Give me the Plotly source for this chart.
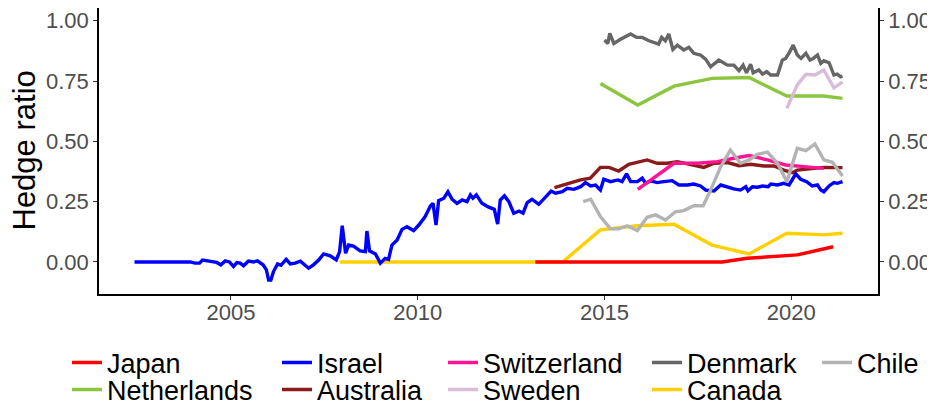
import plotly.graph_objects as go

# ---------------- data ----------------
japan_x = [2013.15, 2018.15, 2018.82, 2020.16, 2021.12]
japan_y = [0.0, 0.0, 0.015, 0.029, 0.063]

canada_x = [2007.91, 2008.88, 2009.88, 2010.88, 2011.88, 2012.88, 2013.88, 2014.89,
            2015.88, 2016.86, 2017.88, 2018.87, 2019.88, 2020.87, 2021.37]
canada_y = [0.0, 0.0, 0.0, 0.0, 0.0, 0.0, 0.0, 0.133, 0.15, 0.156, 0.07, 0.033,
            0.119, 0.112, 0.119]

netherlands_x = [2014.89, 2015.89, 2016.86, 2017.88, 2018.87, 2019.88, 2020.87, 2021.37]
netherlands_y = [0.74, 0.651, 0.729, 0.761, 0.765, 0.688, 0.688, 0.678]

sweden_x = [2019.88, 2020.16, 2020.39, 2020.63, 2020.87, 2021.14, 2021.37]
sweden_y = [0.637, 0.734, 0.778, 0.775, 0.796, 0.722, 0.747]

switzerland_x = [2015.89, 2016.23, 2016.59, 2016.86, 2017.48, 2018.02, 2018.46, 2018.87,
                 2019.36, 2019.85, 2020.34, 2020.87]
switzerland_y = [0.301, 0.34, 0.381, 0.409, 0.409, 0.416, 0.43, 0.441, 0.423, 0.402,
                 0.395, 0.388]

australia_x = [2013.66, 2014.0, 2014.36, 2014.62, 2014.89, 2015.12, 2015.38, 2015.65,
               2015.92, 2016.14, 2016.41, 2016.68, 2016.95, 2017.3, 2017.66, 2017.93,
               2018.29, 2018.6, 2018.91, 2019.27, 2019.54, 2019.8, 2020.03, 2020.16,
               2020.52, 2020.87, 2021.37]
australia_y = [0.308, 0.323, 0.34, 0.347, 0.392, 0.392, 0.377, 0.405, 0.416, 0.423,
               0.409, 0.409, 0.416, 0.405, 0.392, 0.409, 0.412, 0.399, 0.405, 0.398,
               0.398, 0.381, 0.37, 0.381, 0.388, 0.392, 0.391]

chile_x = [2014.43, 2014.63, 2014.89, 2015.16, 2015.38, 2015.61, 2015.88, 2016.14,
           2016.37, 2016.63, 2016.9, 2017.12, 2017.39, 2017.64, 2017.84, 2018.11,
           2018.37, 2018.64, 2018.87, 2019.09, 2019.36, 2019.63, 2019.88, 2020.16,
           2020.39, 2020.63, 2020.87, 2021.1, 2021.37]
chile_y = [0.25, 0.26, 0.188, 0.137, 0.137, 0.15, 0.13, 0.185, 0.195, 0.174, 0.208,
           0.213, 0.233, 0.233, 0.298, 0.395, 0.464, 0.409, 0.423, 0.446, 0.455, 0.409,
           0.333, 0.471, 0.461, 0.489, 0.423, 0.413, 0.356]

denmark_x = [2015.0, 2015.09, 2015.14, 2015.25, 2015.43, 2015.7, 2015.86, 2016.01,
             2016.19, 2016.37, 2016.45, 2016.53, 2016.63, 2016.72, 2016.83, 2016.95,
             2017.12, 2017.26, 2017.39, 2017.57, 2017.71, 2017.84, 2018.06, 2018.29,
             2018.46, 2018.6, 2018.71, 2018.8, 2018.91, 2018.98, 2019.13, 2019.23,
             2019.34, 2019.45, 2019.63, 2019.76, 2019.85, 2019.96, 2020.05, 2020.16,
             2020.26, 2020.39, 2020.5, 2020.59, 2020.7, 2020.79, 2020.87, 2021.01,
             2021.14, 2021.23, 2021.32, 2021.37]
denmark_y = [0.92, 0.906, 0.948, 0.906, 0.923, 0.945, 0.931, 0.931, 0.917, 0.909,
             0.903, 0.931, 0.917, 0.945, 0.881, 0.899, 0.879, 0.89, 0.865, 0.858,
             0.84, 0.809, 0.837, 0.816, 0.816, 0.793, 0.816, 0.784, 0.82, 0.784,
             0.796, 0.779, 0.789, 0.775, 0.775, 0.837, 0.844, 0.872, 0.899, 0.858,
             0.844, 0.865, 0.837, 0.844, 0.858, 0.823, 0.834, 0.826, 0.775, 0.779,
             0.768, 0.771]

israel_x = [2002.42, 2003.91, 2004.04, 2004.16, 2004.24, 2004.45, 2004.62, 2004.73,
            2004.85, 2004.96, 2005.07, 2005.16, 2005.25, 2005.34, 2005.47, 2005.61,
            2005.71, 2005.86, 2005.95, 2006.01, 2006.07, 2006.14, 2006.25, 2006.34,
            2006.48, 2006.59, 2006.72, 2006.86, 2006.96, 2007.08, 2007.21, 2007.35,
            2007.48, 2007.66, 2007.82, 2007.91, 2007.98, 2008.07, 2008.15, 2008.28,
            2008.46, 2008.6, 2008.64, 2008.71, 2008.87, 2009.0, 2009.13, 2009.22,
            2009.31, 2009.45, 2009.58, 2009.71, 2009.89, 2010.03, 2010.2, 2010.34,
            2010.41, 2010.49, 2010.56, 2010.7, 2010.81, 2010.92, 2011.05, 2011.19,
            2011.32, 2011.41, 2011.48, 2011.57, 2011.72, 2011.9, 2012.05, 2012.14,
            2012.21, 2012.32, 2012.44, 2012.57, 2012.71, 2012.82, 2012.93, 2013.06,
            2013.24, 2013.42, 2013.57, 2013.69, 2013.87, 2014.0, 2014.18, 2014.36,
            2014.49, 2014.63, 2014.76, 2014.89, 2014.98, 2015.16, 2015.36, 2015.47,
            2015.59, 2015.7, 2015.88, 2016.01, 2016.1, 2016.23, 2016.41, 2016.59,
            2016.81, 2016.99, 2017.22, 2017.39, 2017.57, 2017.71, 2017.93, 2018.11,
            2018.29, 2018.46, 2018.64, 2018.78, 2018.84, 2018.96, 2019.09, 2019.23,
            2019.38, 2019.45, 2019.63, 2019.8, 2019.94, 2020.03, 2020.12, 2020.25,
            2020.41, 2020.56, 2020.7, 2020.79, 2020.87, 2021.01, 2021.14, 2021.23,
            2021.37]
israel_y = [0.0, 0.0, -0.005, -0.005, 0.008, 0.003, -0.002, -0.012, 0.004, 0.0,
            -0.019, -0.003, -0.005, -0.016, 0.004, 0.0, 0.004, -0.012, -0.033, -0.075,
            -0.075, -0.04, -0.008, -0.014, 0.011, -0.008, -0.005, 0.003, -0.012, -0.026,
            -0.012, 0.008, 0.033, 0.025, 0.008, 0.043, 0.15, 0.036, 0.07, 0.066,
            0.046, 0.043, 0.128, 0.046, 0.033, -0.005, 0.015, 0.011, 0.07, 0.091,
            0.135, 0.146, 0.13, 0.153, 0.188, 0.232, 0.243, 0.153, 0.254, 0.264,
            0.291, 0.26, 0.243, 0.257, 0.25, 0.278, 0.264, 0.278, 0.243, 0.227,
            0.218, 0.157, 0.257, 0.274, 0.25, 0.202, 0.211, 0.202, 0.246, 0.26,
            0.239, 0.27, 0.294, 0.285, 0.291, 0.305, 0.301, 0.312, 0.329, 0.315,
            0.319, 0.298, 0.343, 0.333, 0.34, 0.333, 0.365, 0.333, 0.333, 0.347,
            0.326, 0.336, 0.329, 0.333, 0.337, 0.319, 0.319, 0.323, 0.315, 0.298,
            0.294, 0.319, 0.31, 0.303, 0.298, 0.312, 0.295, 0.312, 0.31, 0.315,
            0.312, 0.323, 0.319, 0.326, 0.319, 0.34, 0.365, 0.343, 0.333, 0.315,
            0.319, 0.298, 0.291, 0.315, 0.329, 0.326, 0.333]

x_ticks = [2005, 2010, 2015, 2020]
y_ticks = [0.0, 0.25, 0.5, 0.75, 1.0]
y_ticktext = ["0.00", "0.25", "0.50", "0.75", "1.00"]

# name, x, y, colour, legend id, legend column text-start px, legend row, y-axis
series = [
    ("Canada", canada_x, canada_y, "#FFD000", "legend8", 687, 1, "y"),
    ("Netherlands", netherlands_x, netherlands_y, "#8CC63E", "legend2", 107, 1, "y"),
    ("Sweden", sweden_x, sweden_y, "#D8BCD8", "legend6", 483, 1, "y"),
    ("Denmark", denmark_x, denmark_y, "#666666", "legend7", 687, 0, "y"),
    ("Australia", australia_x, australia_y, "#8B1A1A", "legend4", 317, 1, "y"),
    ("Israel", israel_x, israel_y, "#0000FF", "legend3", 317, 0, "y"),
    ("Switzerland", switzerland_x, switzerland_y, "#FF1493", "legend5", 483, 0, "y"),
    ("Japan", japan_x, japan_y, "#FF0000", "legend", 107, 0, "y"),
    ("Chile", chile_x, chile_y, "#B3B3B3", "legend9", 857, 0, "y2"),
]

W, H = 935, 410
FONT = "Liberation Sans, Arial, sans-serif"
row_y = [355, 382]

fig = go.Figure()
legends = {}
for name, xs, ys, col, lg, tx, row, ya in series:
    fig.add_trace(go.Scatter(x=xs, y=ys, mode="lines", name=name, yaxis=ya,
                             line=dict(color=col, width=3.4), legend=lg,
                             showlegend=True))
    legends[lg] = dict(
        xref="container", yref="container",
        x=(tx - 48) / W, y=1 - row_y[row] / H,
        xanchor="left", yanchor="middle",
        orientation="v", bgcolor="rgba(0,0,0,0)", borderwidth=0,
        font=dict(family=FONT, size=27, color="black"),
        itemwidth=30, visible=True,
    )

axis_common = dict(
    showline=True, linecolor="black", linewidth=1.5,
    ticks="outside", ticklen=4, tickwidth=1.3, tickcolor="#333333",
    tickfont=dict(family=FONT, size=22, color="#4D4D4D"),
    showgrid=False, zeroline=False, automargin=False,
)

fig.update_layout(
    width=W, height=H, autosize=False, showlegend=True,
    margin=dict(l=91, r=65, t=0, b=124, autoexpand=False),
    plot_bgcolor="white", paper_bgcolor="white",
    font=dict(family=FONT),
    xaxis=dict(range=[2001.47, 2022.32], tickvals=x_ticks, ticklabelstandoff=-6,
               **axis_common),
    yaxis=dict(range=[-0.133, 1.053], tickvals=y_ticks, ticktext=y_ticktext,
               **axis_common),
    yaxis2=dict(range=[-0.133, 1.053], tickvals=y_ticks, ticktext=y_ticktext,
                overlaying="y", side="right", anchor="x", **axis_common),
    annotations=[dict(text="Hedge ratio", xref="paper", yref="paper",
                      x=-0.095, y=0.5017, xanchor="center", yanchor="middle",
                      textangle=-90, showarrow=False,
                      font=dict(family=FONT, size=31, color="black"))],
    **legends,
)

fig.write_html("out.html")
